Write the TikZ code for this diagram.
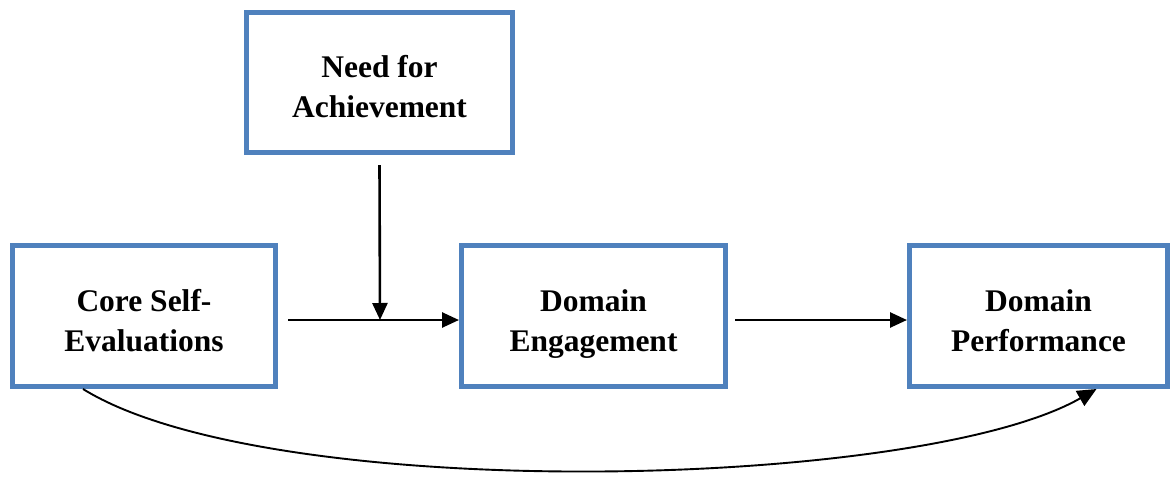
\documentclass[tikz,border=0pt]{standalone}
\usepackage{fontspec}
\setmainfont{Liberation Serif}
\usetikzlibrary{arrows.meta}
\definecolor{boxblue}{HTML}{4F81BD}
\newcommand{\topgap}{\rule{0pt}{42pt}}
\begin{document}
\begin{tikzpicture}[x=1pt,y=-1pt,
  box/.style={draw=boxblue,line width=5pt,inner sep=0pt,align=center,
    font=\fontsize{31.5}{40}\selectfont\bfseries},
  arr/.style={line width=2.6pt,-{Triangle[length=17pt,width=15pt]}},
  carr/.style={line width=1.9pt,-{Triangle[length=19pt,width=17pt]}}]
\useasboundingbox (0,0) rectangle (1172,501);
\node[box,minimum width=266pt,minimum height=140pt] (need) at (379.5,82.5) {\topgap Need for\\\strut Achievement};
\node[box,minimum width=263pt,minimum height=141pt] (cse) at (144,316) {\topgap Core Self-\\\strut Evaluations};
\node[box,minimum width=264pt,minimum height=141pt] (de) at (593.5,316) {\topgap Domain\\\strut Engagement};
\node[box,minimum width=258pt,minimum height=141pt] (dp) at (1038.5,316) {\topgap Domain\\\strut Performance};
\coordinate (j) at (380,320);
\draw[arr] (cse.east |- j) ++(10,0) -- (de.west |- j);
\draw[arr] (need.south) ++(0,10) -- (j);
\draw[arr] (de.east |- j) ++(7,0) -- (dp.west |- j);
\draw[carr] ([xshift=-61pt]cse.south) .. controls (270,505) and (920,490) .. ([xshift=58pt]dp.south);
\end{tikzpicture}
\end{document}
